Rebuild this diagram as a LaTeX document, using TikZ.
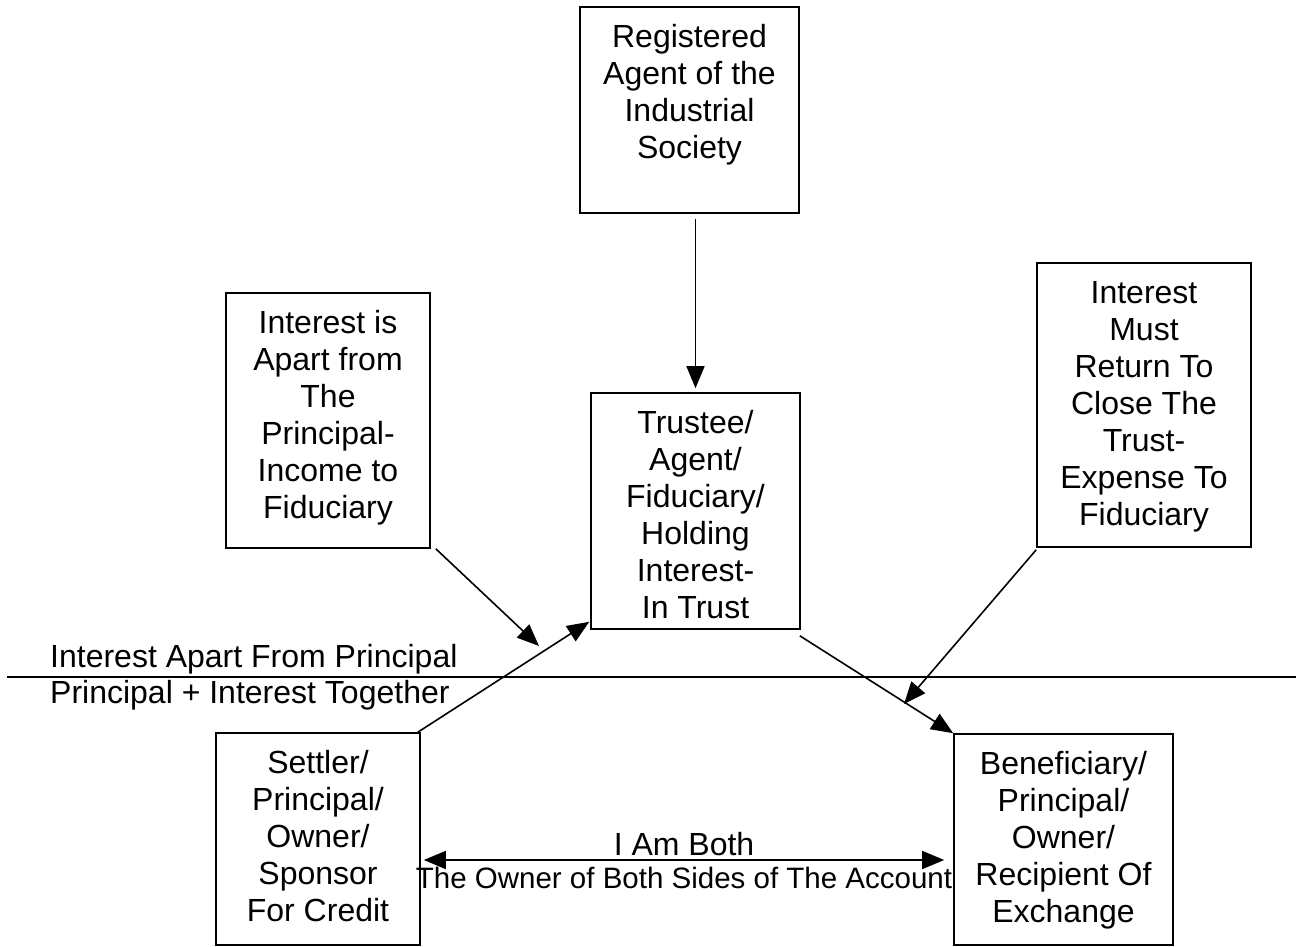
\documentclass[tikz,border=0pt]{standalone}
\usepackage{fontspec}
\setmainfont{Liberation Sans}
\usetikzlibrary{arrows.meta}
\tikzset{
  boxnode/.style={draw=black, line width=1.6pt, rectangle, inner sep=0pt},
  boxtext/.style={align=center, inner sep=0pt, anchor=north, font=\fontsize{32}{37}\selectfont},
  freetext/.style={inner sep=0pt, font=\fontsize{32}{37}\selectfont},
  smalltext/.style={inner sep=0pt, font=\fontsize{29.5}{37}\selectfont},
  conn/.style={line width=1.6pt, -{Triangle[length=22pt,width=18pt]}},
  dconn/.style={line width=1.6pt, {Triangle[length=22pt,width=18pt]}-{Triangle[length=22pt,width=18pt]}},
  rule/.style={line width=1.6pt}
}
\begin{document}
\begin{tikzpicture}[x=1pt,y=-1pt]
\useasboundingbox (0,0) rectangle (1296,947);
% boxes
\node[boxnode, minimum width=219pt, minimum height=206pt] (reg) at (689.5,110) {};
\node[boxnode, minimum width=204pt, minimum height=255pt] (apart) at (328,420.5) {};
\node[boxnode, minimum width=209pt, minimum height=236pt] (trustee) at (695.5,511) {};
\node[boxnode, minimum width=214pt, minimum height=284pt] (ret) at (1144,405) {};
\node[boxnode, minimum width=204pt, minimum height=212pt] (settler) at (318,839) {};
\node[boxnode, minimum width=219pt, minimum height=211pt] (benef) at (1063.5,839.5) {};
% box texts
\node[boxtext] (regt) at ([yshift=-15pt]reg.north) {\strut Registered\\Agent of the\\Industrial\\Society};
\node[boxtext] (apartt) at ([yshift=-15pt]apart.north) {\strut Interest is\\Apart from\\The\\Principal-\\Income to\\Fiduciary};
\node[boxtext] (trusteet) at ([yshift=-15pt]trustee.north) {\strut Trustee/\\Agent/\\Fiduciary/\\Holding\\Interest-\\In Trust};
\node[boxtext] (rett) at ([yshift=-15pt]ret.north) {\strut Interest\\Must\\Return To\\Close The\\Trust-\\Expense To\\Fiduciary};
\node[boxtext] (settlert) at ([yshift=-15pt]settler.north) {\strut Settler/\\Principal/\\Owner/\\Sponsor\\For Credit};
\node[boxtext] (beneft) at ([yshift=-15pt]benef.north) {\strut Beneficiary/\\Principal/\\Owner/\\Recipient Of\\Exchange};
% dividing rule
\coordinate (ruleL) at (7,677);
\coordinate (ruleR) at (1296,677);
\draw[rule] (ruleL) -- (ruleR);
\node[freetext, anchor=base west] (upper) at (50,667) {Interest Apart From Principal};
\node[freetext, anchor=base west] (lower) at (50,703) {Principal + Interest Together};
% connectors
\draw[conn] ([yshift=-5pt]reg.south -| trustee.north) -- ([yshift=4pt]trustee.north);
\coordinate (a2end) at (539,646);
\draw[conn] ([xshift=5pt]apart.south east) -- (a2end);
\draw[conn] ([xshift=-3pt]settler.north east) -- ([shift={(-1pt,8pt)}]trustee.south west);
\draw[conn] ([shift={(-1pt,-6pt)}]trustee.south east) -- (benef.north west);
\coordinate (a5end) at (904,704);
\draw[conn] ([yshift=-2pt]ret.south west) -- (a5end);
\draw[dconn] ([shift={(3pt,-21pt)}]settler.east) -- ([shift={(-9pt,-20.5pt)}]benef.west)
  node[freetext, pos=0.5, anchor=base, yshift=5pt] (both) {I Am Both}
  node[smalltext, pos=0.5, anchor=base, yshift=-28pt] (owner) {The Owner of Both Sides of The Account};
\end{tikzpicture}
\end{document}
